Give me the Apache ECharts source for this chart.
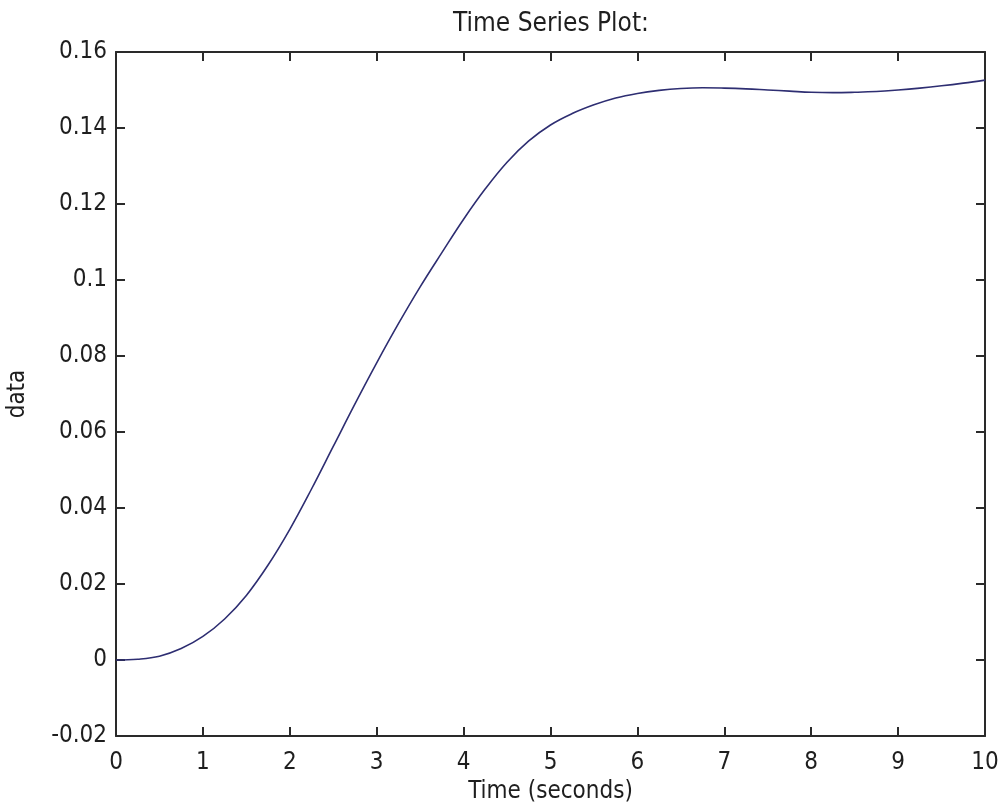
<!DOCTYPE html>
<html>
<head>
<meta charset="utf-8">
<script src="https://cdn.jsdelivr.net/npm/echarts@6/dist/echarts.min.js"></script>
<style>
html,body{margin:0;padding:0;background:#fff;}
#chart{width:1002px;height:810px;}
</style>
</head>
<body>
<div id="chart"></div>
<script>
// Data
const timeValues = [0, 0.25, 0.5, 0.75, 1.0, 1.25, 1.5, 1.75, 2.0, 2.25, 2.5, 2.75, 3.0, 3.25, 3.5, 3.75, 4.0, 4.25, 4.5, 4.75, 5.0, 5.25, 5.5, 5.75, 6.0, 6.25, 6.5, 6.75, 7.0, 7.25, 7.5, 7.75, 8.0, 8.25, 8.5, 8.75, 9.0, 9.25, 9.5, 9.75, 10.0];
const dataValues = [0, 0.0002, 0.0010, 0.0030, 0.0062, 0.0108, 0.0170, 0.0250, 0.0344, 0.0450, 0.0562, 0.0674, 0.0782, 0.0885, 0.0982, 0.1072, 0.1160, 0.1240, 0.1310, 0.1366, 0.1408, 0.1438, 0.1461, 0.1479, 0.1491, 0.1499, 0.1504, 0.1506, 0.1505, 0.1503, 0.1500, 0.1497, 0.1494, 0.1493, 0.1494, 0.1496, 0.1500, 0.1505, 0.1511, 0.1518, 0.1526];
const xTicks = {min: 0, max: 10, interval: 1};
const yTicks = {min: -0.02, max: 0.16, interval: 0.02};
const titleText = 'Time Series Plot:';
const xLabel = 'Time (seconds)';
const yLabel = 'data';

const font = '"DejaVu Sans Condensed", "DejaVu Sans", sans-serif';
const axisColor = '#2a2a2a';
const textColor = '#1e1e1e';

const seriesData = timeValues.map((t, i) => [t, dataValues[i]]);

function fmtY(v) {
  return String(Math.round(v * 100) / 100);
}

const axisCommon = {
  axisLine: {show: true, onZero: false, lineStyle: {color: axisColor, width: 2}},
  axisTick: {show: true, inside: true, length: 9, lineStyle: {color: axisColor, width: 2}},
  splitLine: {show: false}
};

const chart = echarts.init(document.getElementById('chart'), null, {renderer: 'canvas'});
chart.setOption({
  animation: false,
  backgroundColor: '#ffffff',
  title: {
    text: titleText,
    left: 546,
    textAlign: 'center',
    top: 6,
    textStyle: {fontFamily: font, fontSize: 26, fontWeight: 'normal', color: textColor}
  },
  grid: {left: 116, right: 17, top: 52, bottom: 74, containLabel: false, outerBoundsMode: 'none'},
  xAxis: [
    Object.assign({
      type: 'value', position: 'bottom', min: xTicks.min, max: xTicks.max, interval: xTicks.interval,
      name: xLabel, nameLocation: 'middle', nameGap: 44,
      nameTextStyle: {fontFamily: font, fontSize: 24, color: textColor},
      axisLabel: {show: true, margin: 15, fontFamily: font, fontSize: 24, color: textColor}
    }, axisCommon),
    Object.assign({
      type: 'value', position: 'top', min: xTicks.min, max: xTicks.max, interval: xTicks.interval,
      axisLabel: {show: false}
    }, axisCommon)
  ],
  yAxis: [
    Object.assign({
      type: 'value', position: 'left', min: yTicks.min, max: yTicks.max, interval: yTicks.interval,
      name: yLabel, nameLocation: 'middle', nameGap: 86,
      nameTextStyle: {fontFamily: font, fontSize: 24, color: textColor},
      axisLabel: {show: true, margin: 9, fontFamily: font, fontSize: 24, color: textColor, formatter: fmtY}
    }, axisCommon),
    Object.assign({
      type: 'value', position: 'right', min: yTicks.min, max: yTicks.max, interval: yTicks.interval,
      axisLabel: {show: false}
    }, axisCommon)
  ],
  series: [{
    type: 'line',
    xAxisIndex: 0,
    yAxisIndex: 0,
    data: seriesData,
    smooth: 0.4,
    showSymbol: false,
    symbol: 'none',
    lineStyle: {color: '#2e2e72', width: 1.6}
  }]
});
</script>
</body>
</html>
